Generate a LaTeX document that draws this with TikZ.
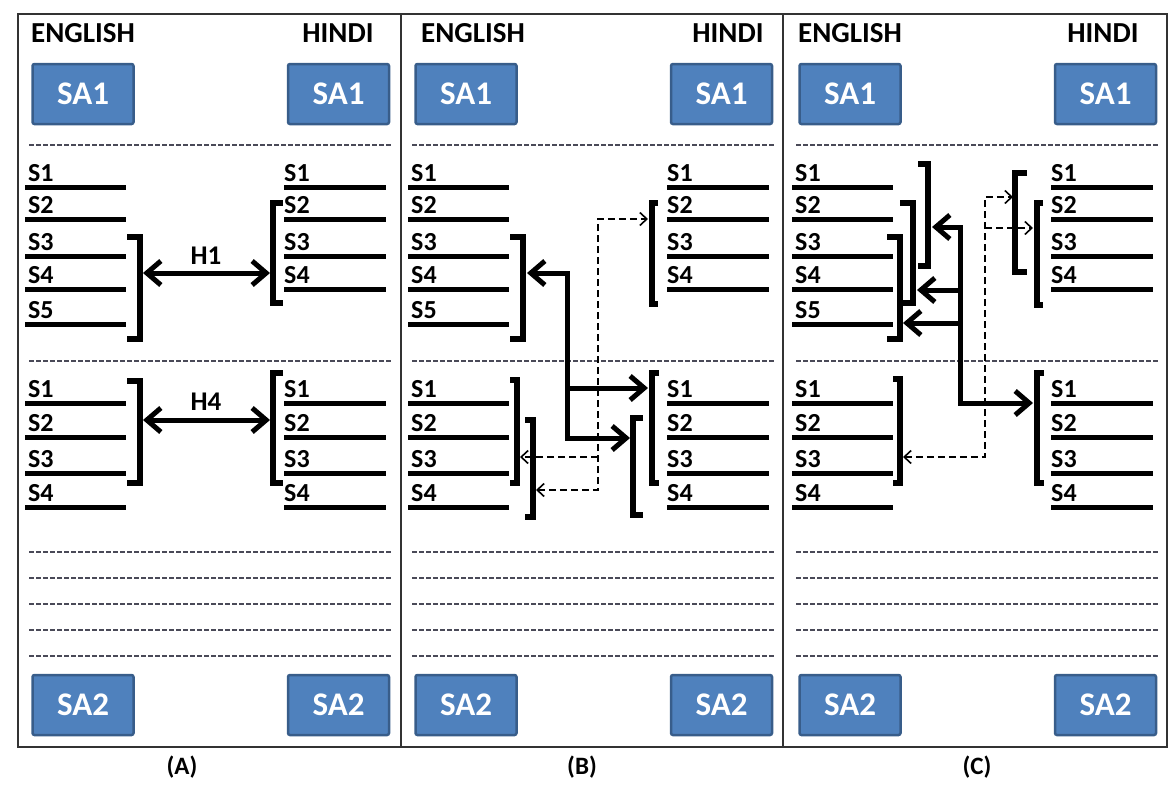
\documentclass[tikz,border=0pt]{standalone}
\usepackage{fontspec}
\setmainfont{Carlito}
\usetikzlibrary{arrows.meta}
\definecolor{boxblue}{HTML}{4F81BD}
\definecolor{boxedge}{HTML}{385D8A}
\definecolor{sepgray}{HTML}{4A4A58}

\tikzset{
  sabox/.style={draw=boxedge, line width=2.5pt, fill=boxblue, rounded corners=2pt,
    minimum width=101pt, minimum height=60pt, inner sep=0pt,
    text=white, font=\bfseries\fontsize{33}{36}\selectfont},
  head/.style={anchor=base, inner sep=0pt, font=\bfseries\fontsize{29}{32}\selectfont},
  slab/.style={anchor=base west, inner sep=0pt, font=\bfseries\fontsize{26}{28}\selectfont},
  hlab/.style={anchor=base, inner sep=0pt, font=\bfseries\fontsize{27}{30}\selectfont},
  caplab/.style={inner sep=0pt, font=\bfseries\fontsize{25}{27}\selectfont},
  bar/.style={line width=5pt},
  brk/.style={line width=5.5pt},
  sep/.style={sepgray, line width=1.5pt, dash pattern=on 5pt off 2pt},
  big/.style={line width=5pt, >={Straight Barb[length=14pt, width=24pt]}},
  dsh/.style={line width=1.6pt, dash pattern=on 7pt off 4pt, >={Straight Barb[length=7pt, width=13pt]}}
}

\begin{document}
\begin{tikzpicture}[x=1pt, y=-1pt]
  \useasboundingbox (0,0) rectangle (1173,785);

  % frame and panel dividers
  \draw[black!80, line width=1.5pt] (18,14) rectangle (1167,747);
  \draw[black!80, line width=1.5pt] (401,14) -- (401,747);
  \draw[black!80, line width=1.5pt] (783,14) -- (783,747);

  % what every panel has
  \foreach \off/\p/\ex/\hx/\cx in {0/A/83/338/182, 383/B/473/728/582, 767/C/850/1103/977} {
    \node[head] (eng\p) at (\ex,42) {ENGLISH};
    \node[head] (hin\p) at (\hx,42) {HINDI};
    \node[sabox] (saA\p) at (83+\off,94) {SA1};
    \node[sabox] (saB\p) at (338.5+\off,94) {SA1};
    \node[sabox] (saC\p) at (83+\off,705) {SA2};
    \node[sabox] (saD\p) at (338.5+\off,705) {SA2};
    \node[caplab] (cap\p) at (\cx,767) {(\p)};
    \foreach \y in {145,361,552,578,604,630,656}
      \draw[sep] (29+\off,\y) -- (392+\off,\y);
    % sentences
    \foreach \y [count=\i] in {187,219,256,289,324} {
      \draw[bar] (25+\off,\y) -- ++(101,0);
      \node[slab] (ue\p\i) at (28+\off,\y-6) {S\i};
    }
    \foreach \y [count=\i] in {187,219,256,289} {
      \draw[bar] (284+\off,\y) -- ++(102,0);
      \node[slab] (uh\p\i) at (284+\off,\y-6) {S\i};
    }
    \foreach \y [count=\i] in {403,437,473,507} {
      \draw[bar] (25+\off,\y) -- ++(101,0);
      \node[slab] (le\p\i) at (28+\off,\y-6) {S\i};
      \draw[bar] (284+\off,\y) -- ++(102,0);
      \node[slab] (lh\p\i) at (284+\off,\y-6) {S\i};
    }
  }

  % (A) brackets
  \draw[brk] (127,237) -| (140,339) -- (127,339);
  \draw[brk] (283,203) -| (273,303) -- (283,303);
  \draw[brk] (127,381) -| (140,483) -- (127,483);
  \draw[brk] (283,373) -| (273,483) -- (283,483);

  % (A) links
  \coordinate (aUL) at (143,273);
  \coordinate (aUR) at (270,273);
  \coordinate (aLL) at (143,420);
  \coordinate (aLR) at (270,420);
  \draw[big, <->] (aUL) -- (aUR);
  \draw[big, <->] (aLL) -- (aLR);
  \node[hlab] (h1) at (206,264) {H1};
  \node[hlab] (h4) at (206,410) {H4};

  % (B) brackets
  \draw[brk] (510,237) -| (523,339) -- (510,339);
  \draw[brk] (658,203) -| (652,304) -- (658,304);
  \draw[brk] (510,380) -| (517,483) -- (510,483);
  \draw[brk] (525,420) -| (533,517) -- (525,517);
  \draw[brk] (659,373) -| (652,483) -- (659,483);
  \draw[brk] (643,418) -| (633,515) -- (643,515);

  % (B) links
  \coordinate (bUL) at (527,273);
  \coordinate (bTrunk) at (567,438);
  \coordinate (bLR1) at (648,388);
  \coordinate (bLR2) at (630,438);
  \draw[big, <->] (bUL) -| (bTrunk) -- (bLR2);
  \draw[big, ->] (bTrunk |- bLR1) -- (bLR1);
  \coordinate (bLL1) at (520,457);
  \coordinate (bLL2) at (536,490);
  \coordinate (bDash) at (598,490);
  \coordinate (bUR) at (648,219);
  \draw[dsh, <->] (bLL2) -- (bDash) |- (bUR);
  \draw[dsh, ->] (bDash |- bLL1) -- (bLL1);

  % (C) brackets
  \draw[brk] (918,164) -| (928,266) -- (918,266);
  \draw[brk] (900,203) -| (913,303) -- (900,303);
  \draw[brk] (887,237) -| (900,339) -- (887,339);
  \draw[brk] (1027,173) -| (1015,272) -- (1027,272);
  \draw[brk] (1043,203) -| (1037,305) -- (1043,305);
  \draw[brk] (893,379) -| (900,483) -- (893,483);
  \draw[brk] (1044,373) -| (1037,483) -- (1044,483);

  % (C) links
  \coordinate (cUL1) at (932,227);
  \coordinate (cUL2) at (917,290);
  \coordinate (cUL3) at (903,323);
  \coordinate (cJ) at (960,403);
  \coordinate (cLR) at (1033,403);
  \draw[big, <->] (cUL1) -| (cJ) -- (cLR);
  \draw[big, ->] (cJ |- cUL2) -- (cUL2);
  \draw[big, ->] (cJ |- cUL3) -- (cUL3);
  \coordinate (cLL) at (903,457);
  \coordinate (cD) at (985,457);
  \coordinate (cUR1) at (1013,197);
  \coordinate (cUR2) at (1033,228);
  \draw[dsh, <->] (cLL) -- (cD) |- (cUR1);
  \draw[dsh, ->] (cD |- cUR2) -- (cUR2);
\end{tikzpicture}
\end{document}
